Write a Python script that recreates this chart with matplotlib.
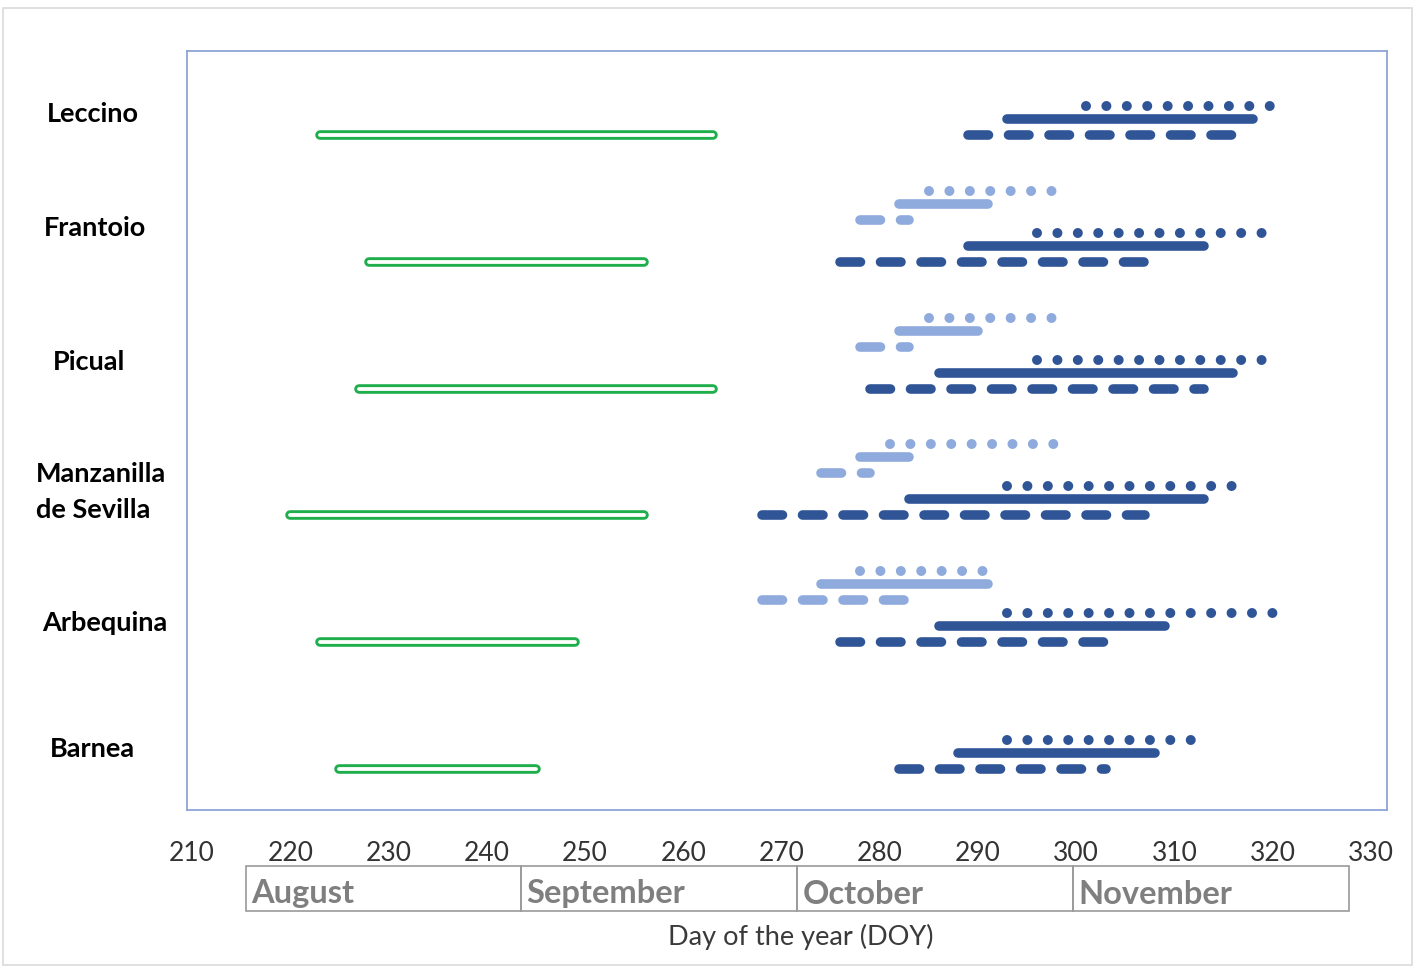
import numpy as np
import matplotlib
matplotlib.use("Agg")
import matplotlib.pyplot as plt
from matplotlib.patches import Rectangle
import matplotlib.transforms as mtransforms

plt.rcParams['font.family'] = ['Lato', 'DejaVu Sans']
plt.rcParams['lines.scale_dashes'] = False

# ---------------- data ----------------
varieties = ["Leccino", "Frantoio", "Picual", "Manzanilla\nde Sevilla", "Arbequina", "Barnea"]
green_start = [223, 228, 227, 220, 223, 225]
green_end = [263, 256, 263, 256, 249, 245]

dark_dash_start = [289, 276, 279, 268, 276, 282]
dark_dash_end = [316, 307, 313, 307, 303, 303]
dark_solid_start = [293, 289, 286, 283, 286, 288]
dark_solid_end = [318, 313, 316, 313, 309, 308]
dark_dot_start = [301, 296, 296, 293, 293, 293]
dark_dot_end = [320, 319, 319, 316, 320.5, 312]

nan = np.nan
light_dash_start = [nan, 278, 278, 274, 268, nan]
light_dash_end = [nan, 283, 283, 279, 283, nan]
light_solid_start = [nan, 282, 282, 278, 274, nan]
light_solid_end = [nan, 291, 290, 283, 291, nan]
light_dot_start = [nan, 285, 285, 281, 278, nan]
light_dot_end = [nan, 298, 298, 298, 291, nan]

xticks = list(range(210, 331, 10))
months = ["August", "September", "October", "November"]
month_edges = [215.5, 243.5, 271.6, 299.7, 327.8]
xlabel = "Day of the year (DOY)"

# ---------------- style ----------------
W, H = 1417, 977
fig = plt.figure(figsize=(W / 100, H / 100), dpi=100)
ax = fig.add_axes([187 / W, 1 - 810 / H, 1200 / W, 759 / H])

PX = 72 / 100  # points per pixel
DARK = '#2F5597'
LIGHT = '#8FAADC'
GREEN = '#1FAE4C'
lw_blue = 9.6 * PX
lw_dot = 10 * PX
dash_style = (0, (20.5 * PX, 20.0 * PX))
dot_style = (0, (0.01, 20.4 * PX))

# row offsets inside a group (layout)
OFF_SOLID = 0.126
OFF_DOT = 0.229
OFF_LDASH = 0.331
OFF_LSOLID = 0.457
OFF_LDOT = 0.56

n = len(varieties)
for i in range(n):
    base = n - 1 - i

    def seg(s, e, y, color, lw, ls):
        if np.isnan(s):
            return
        ax.plot([s, e], [y, y], color=color, lw=lw, linestyle=ls,
                solid_capstyle='round', dash_capstyle='round', zorder=3)

    # green hollow bar
    ax.plot([green_start[i], green_end[i]], [base, base], color=GREEN, lw=9.6 * PX,
            solid_capstyle='round', zorder=3)
    ax.plot([green_start[i], green_end[i]], [base, base], color='white', lw=3.8 * PX,
            solid_capstyle='round', zorder=4)

    seg(dark_dash_start[i], dark_dash_end[i], base, DARK, lw_blue, dash_style)
    seg(dark_solid_start[i], dark_solid_end[i], base + OFF_SOLID, DARK, lw_blue, '-')
    seg(dark_dot_start[i], dark_dot_end[i], base + OFF_DOT, DARK, lw_dot, dot_style)
    seg(light_dash_start[i], light_dash_end[i], base + OFF_LDASH, LIGHT, lw_blue, dash_style)
    seg(light_solid_start[i], light_solid_end[i], base + OFF_LSOLID, LIGHT, lw_blue, '-')
    seg(light_dot_start[i], light_dot_end[i], base + OFF_LDOT, LIGHT, lw_dot, dot_style)

ax.set_xlim(209.49, 331.63)
ax.set_ylim(-0.323, 5.662)
ax.set_yticks([])
ax.set_xticks(xticks)
ax.set_xticklabels([str(t) for t in xticks], fontsize=19, color='#333333')
ax.tick_params(axis='x', length=0, pad=22)
for sp in ax.spines.values():
    sp.set_color('#8EA5D6')
    sp.set_linewidth(1.3)

# variety labels (figure pixel coordinates)
def fx(px):
    return px / W

def fy(py):
    return 1 - py / H

label_pos = [(92.5, 114, 'center'), (95, 228, 'center'), (89.5, 362, 'center'),
             (36, 492, 'left'), (104.5, 623, 'center'), (92.5, 749, 'center')]
for name, (px, py, ha) in zip(varieties, label_pos):
    fig.text(fx(px), fy(py), name, ha=ha, va='center', fontsize=19.5,
             fontweight='bold', color='black', linespacing=1.55)

# month boxes below axis
trans = mtransforms.blended_transform_factory(ax.transData, ax.transAxes)
y_top = (810 - 866) / 759
y_bot = (810 - 911) / 759
for k, m in enumerate(months):
    x0, x1 = month_edges[k], month_edges[k + 1]
    ax.add_patch(Rectangle((x0, y_bot), x1 - x0, y_top - y_bot, transform=trans,
                           fill=False, edgecolor='#9A9A9A', lw=1.2, clip_on=False))
    ax.text(x0 + 0.55, (810 - 894) / 759, m, transform=trans, ha='left', va='center',
            fontsize=23.5, color='#7F7F7F', fontweight='bold')

fig.text(fx(801), fy(937), xlabel, ha='center', va='center', fontsize=19.5, color='#3A3A3A')

# outer border
fig.patches.append(Rectangle((fx(3), fy(965)), fx(1412) - fx(3), fy(8) - fy(965),
                             transform=fig.transFigure, fill=False,
                             edgecolor='#DADADA', lw=1.2))

fig.savefig('out.png', dpi=100)
